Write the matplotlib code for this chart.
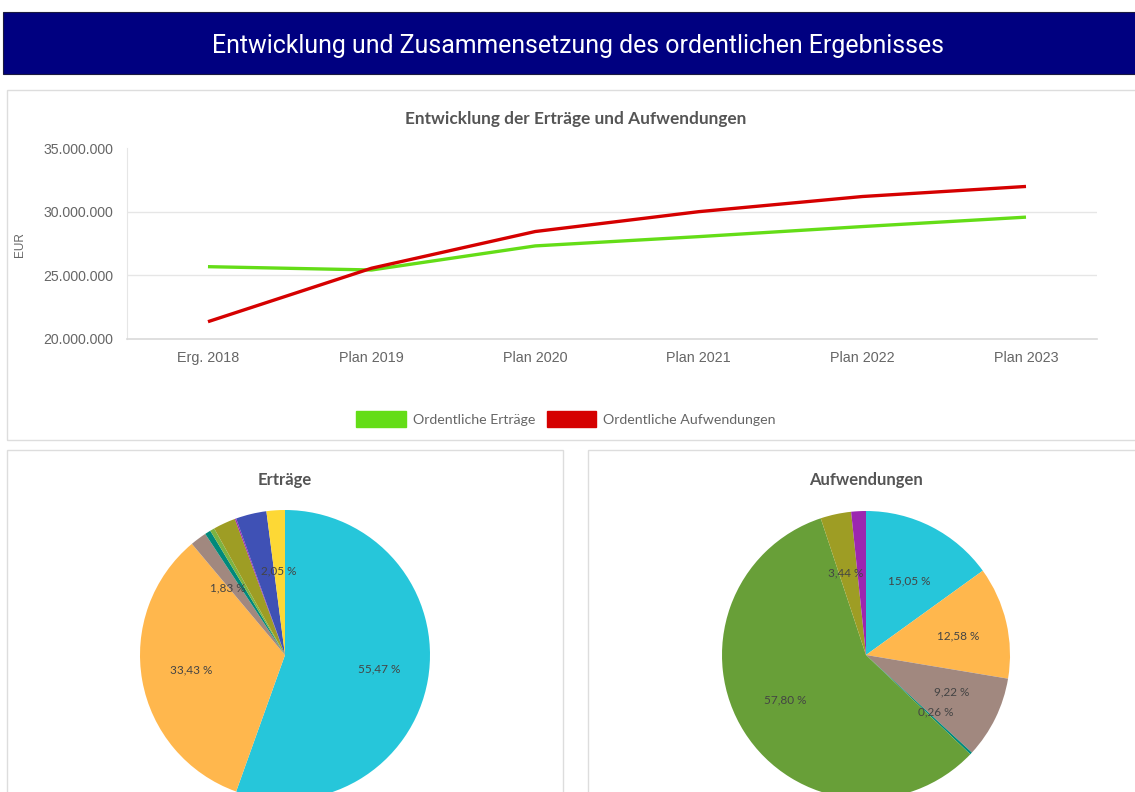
import matplotlib
matplotlib.use("Agg")
import numpy as np
import matplotlib.pyplot as plt
from matplotlib.patches import Rectangle, Patch

# ---------------- data ----------------
categories = ["Erg. 2018", "Plan 2019", "Plan 2020", "Plan 2021", "Plan 2022", "Plan 2023"]
ertraege = [25_680_000, 25_420_000, 27_310_000, 28_040_000, 28_830_000, 29_570_000]
aufwendungen = [21_360_000, 25_560_000, 28_440_000, 30_000_000, 31_190_000, 31_980_000]
y_ticks = [20_000_000, 25_000_000, 30_000_000, 35_000_000]

ert_pie_values = [55.47, 33.43, 1.83, 0.65, 0.50, 2.50, 0.15, 3.42, 2.05]
ert_pie_shown = [True, True, True, False, False, False, False, False, True]
ert_pie_colors = ["#26C6DA", "#FFB74D", "#A1887F", "#00897B", "#7CB342",
                  "#9E9D24", "#9C27B0", "#3F51B5", "#FDD835"]

auf_pie_values = [15.05, 12.58, 9.22, 0.26, 57.80, 3.44, 1.65]
auf_pie_shown = [True, True, True, True, True, True, False]
auf_pie_colors = ["#26C6DA", "#FFB74D", "#A1887F", "#00897B", "#689F38",
                  "#9E9D24", "#9C27B0"]

W, H = 1135, 792
fig = plt.figure(figsize=(W / 100, H / 100), dpi=100)
fig.patch.set_facecolor("white")


def fx(x):
    return x / W


def fy(y):
    return 1 - y / H


def box(x0, y0, x1, y1, **kw):
    r = Rectangle((fx(x0), fy(y1)), fx(x1 - x0), (y1 - y0) / H,
                  transform=fig.transFigure, **kw)
    fig.add_artist(r)
    return r


# banner
box(3, 12, 1140, 74, facecolor="#000080", edgecolor="#1a1a40", linewidth=0.8)
banner = fig.text(fx(578), fy(46), "Entwicklung und Zusammensetzung des ordentlichen Ergebnisses",
                  color="white", ha="center", va="center", family="Roboto", fontsize=16)

# panels
box(7, 90, 1140, 440, facecolor="none", edgecolor="#dddddd", linewidth=1)
box(7, 450, 563, 800, facecolor="none", edgecolor="#dddddd", linewidth=1)
box(588, 450, 1140, 800, facecolor="none", edgecolor="#dddddd", linewidth=1)

# ---------------- line chart ----------------
ax = fig.add_axes([fx(127), fy(339), fx(1097 - 127), (339 - 148) / H])
x = list(range(len(categories)))
ax.plot(x, ertraege, color="#64DD17", lw=2.4, solid_capstyle="butt")
ax.plot(x, aufwendungen, color="#D50000", lw=2.4, solid_capstyle="butt")
ax.set_xlim(-0.495, 5.434)
ax.set_ylim(y_ticks[0], y_ticks[-1])
ax.set_yticks(y_ticks)
ax.set_yticklabels([f"{v:,}".replace(",", ".") for v in y_ticks],
                   family="Liberation Sans", fontsize=10.2, color="#666666")
ax.set_xticks(x)
ax.set_xticklabels(categories, family="Liberation Sans", fontsize=10.4, color="#666666")
ax.tick_params(length=0)
ax.tick_params(axis="y", pad=10)
ax.tick_params(axis="x", pad=9)
for v in y_ticks[1:-1]:
    ax.axhline(v, color="#e6e6e6", lw=1, zorder=0)
for s in ["top", "right"]:
    ax.spines[s].set_visible(False)
ax.spines["left"].set_color("#e6e6e6")
ax.spines["bottom"].set_color("#d9d9d9")
ax.spines["bottom"].set_linewidth(1.2)
fig.text(fx(20), fy(245), "EUR", rotation=90, ha="center", va="center",
         family="Liberation Sans", fontsize=8.5, color="#666666")

ctitle = fig.text(fx(576), fy(119), "Entwicklung der Erträge und Aufwendungen",
                  ha="center", va="center", family="Lato", weight="bold",
                  fontsize=12, color="#555555")

handles = [Patch(facecolor="#64DD17", edgecolor="#64DD17"),
           Patch(facecolor="#D50000", edgecolor="#D50000")]
leg = fig.legend(handles, ["Ordentliche Erträge", "Ordentliche Aufwendungen"],
                 loc="center", bbox_to_anchor=(fx(566), fy(419)), ncol=2, frameon=False,
                 handlelength=3.5, handleheight=1.3, handletextpad=0.5, columnspacing=0.8,
                 prop={"family": "Lato", "size": 10.2})
for t in leg.get_texts():
    t.set_color("#666666")


# ---------------- pies ----------------
def make_pie(cx, cy, r, values, shown, colors, title):
    pa = fig.add_axes([fx(cx - r), fy(cy + r), fx(2 * r), 2 * r / H])
    wedges, _ = pa.pie(values, colors=colors, startangle=90, counterclock=False,
                       wedgeprops={"linewidth": 0}, normalize=True)
    for w, v, s in zip(wedges, values, shown):
        if not s:
            continue
        th = np.deg2rad((w.theta1 + w.theta2) / 2)
        pa.text(0.66 * np.cos(th), 0.58 * np.sin(th), f"{v:.2f} %".replace(".", ","),
                ha="center", va="center", family="Lato", fontsize=8.5, color="#444444")
    pa.set_xlim(-1, 1)
    pa.set_ylim(-1, 1)
    pa.set_aspect("equal")
    fig.text(fx(cx), fy(480), title, ha="center", va="center", family="Lato",
             weight="bold", fontsize=12, color="#555555")
    return pa


make_pie(285, 655, 145, ert_pie_values, ert_pie_shown, ert_pie_colors, "Erträge")
make_pie(866, 655, 144, auf_pie_values, auf_pie_shown, auf_pie_colors, "Aufwendungen")

# fit widths of a few texts
fig.canvas.draw()
rend = fig.canvas.get_renderer()
for t, target in [(banner, 733), (ctitle, 340)]:
    w = t.get_window_extent(rend).width
    t.set_fontsize(t.get_fontsize() * target / w)

fig.savefig("out.png", dpi=100)
